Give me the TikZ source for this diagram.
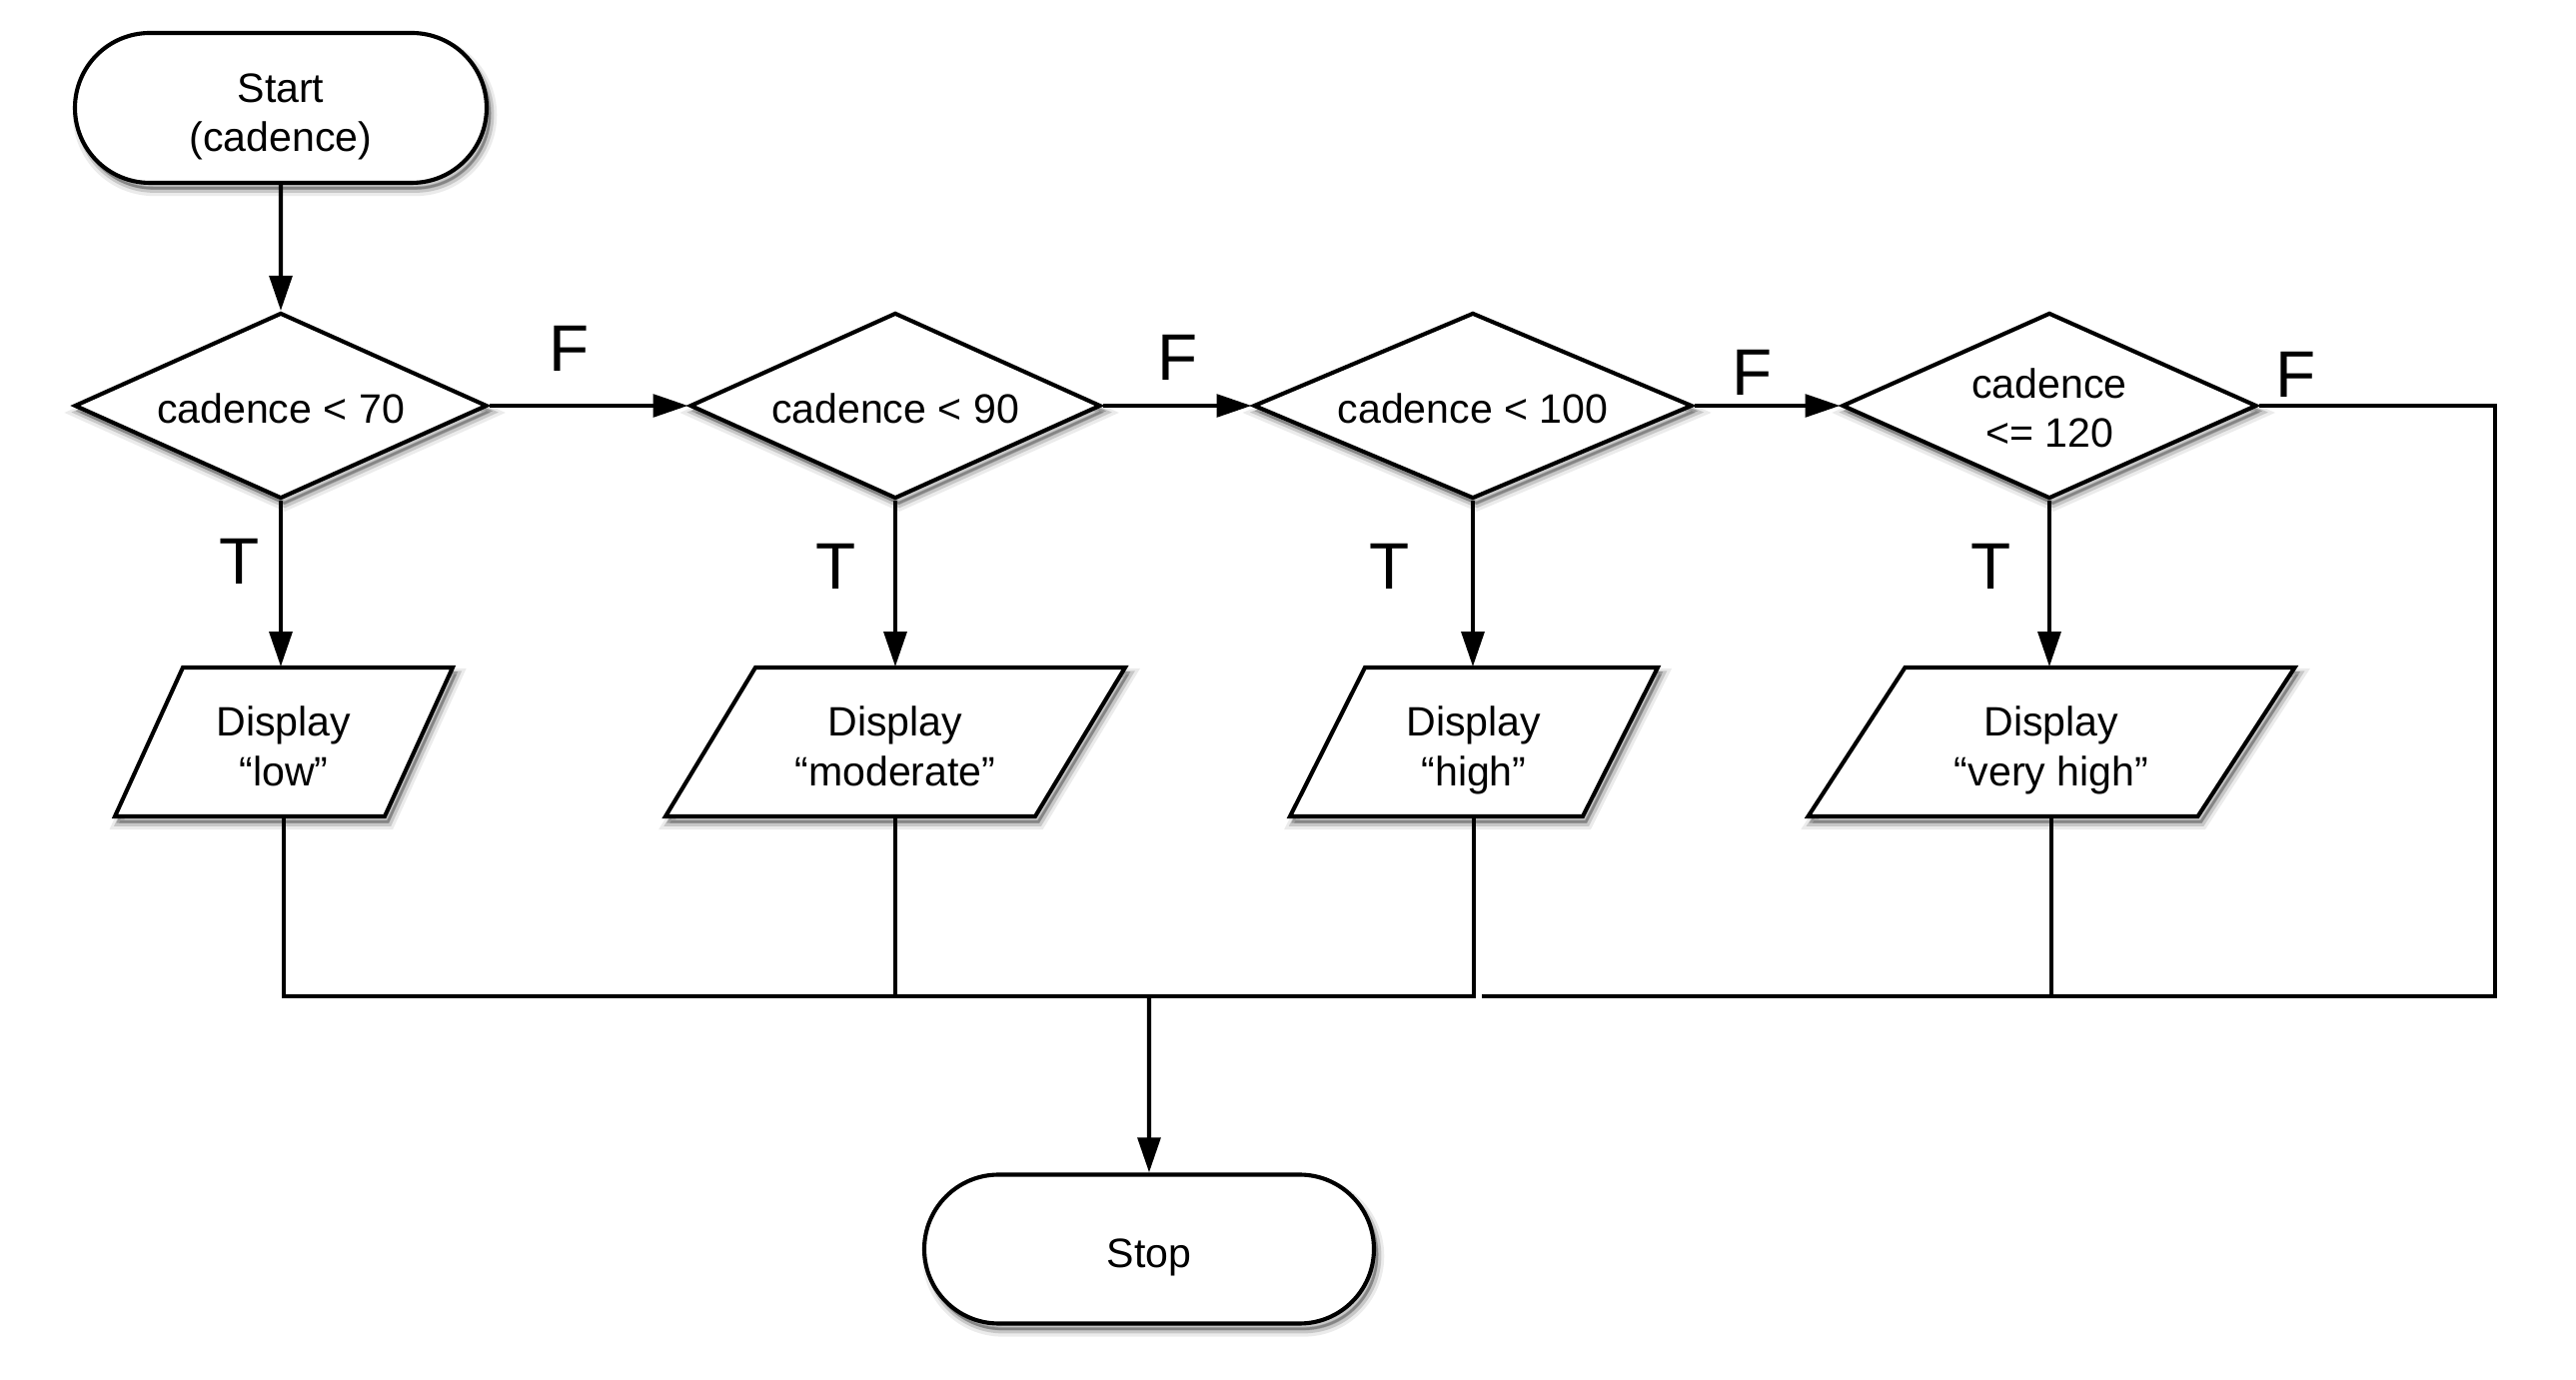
\documentclass[tikz,border=0pt]{standalone}
\usepackage{fontspec}
\setmainfont{Liberation Sans}
\usetikzlibrary{shapes.geometric,shapes.misc,arrows.meta,shadows}
\def\pxu{0.2433pt}
\newcommand\lowtxt[2]{\raisebox{-#1}[\height][\depth]{\begin{tabular}{@{}c@{}}#2\end{tabular}}}
\tikzset{
  softshadow/.style={
    general shadow={shadow xshift=1pt, shadow yshift=-1.7pt, fill=black, fill opacity=0.14, draw=black, draw opacity=0.08, line width=3pt},
    general shadow={shadow xshift=1pt, shadow yshift=-1.6pt, fill=none, draw=black, draw opacity=0.15, line width=1.6pt},
    general shadow={shadow xshift=0.8pt, shadow yshift=-1.3pt, fill=none, draw=black, draw opacity=0.22, line width=0.6pt}
  },
  shapeline/.style={draw=black, line width=1pt, fill=white},
  txt/.style={font=\fontsize{10}{12}\selectfont, align=center, inner sep=0pt},
  term/.style={shapeline, softshadow, txt, rounded rectangle, minimum height={150*\pxu}},
  decis/.style={shapeline, softshadow, txt, diamond, aspect=2.2, minimum height={186*\pxu}},
  paratext/.style={txt, rectangle, draw=none, minimum height={149*\pxu}},
  conn/.style={line width=1pt, draw=black, line join=miter},
  arr/.style={conn, -{Triangle[length=8.5pt, width=5.5pt]}},
  lbl/.style={font=\fontsize{16}{19}\selectfont, inner sep=0pt}
}
\newcommand\paranode[6]{%
  \draw[shapeline, softshadow] ({#2-#4/2+#5/2},{#3-74.5}) -- ({#2+#4/2+#5/2},{#3-74.5}) -- ({#2+#4/2-#5/2},{#3+74.5}) -- ({#2-#4/2-#5/2},{#3+74.5}) -- cycle;
  \node[paratext, minimum width={#4*\pxu}] (#1) at (#2,#3) {\lowtxt{2.2pt}{#6}};
}
\begin{document}
\begin{tikzpicture}[x=0.2433pt, y=-0.2433pt]
\useasboundingbox[fill=white] (0,0) rectangle (2578,1381);

\node[term, minimum width={412*\pxu}] (start) at (281,108) {\lowtxt{2.3pt}{Start\\(cadence)}};

\node[decis, minimum width={413*\pxu}] (d1) at (281,406) {\lowtxt{1.8pt}{cadence < 70}};
\node[decis, minimum width={411*\pxu}] (d2) at (896,406) {\lowtxt{1.8pt}{cadence < 90}};
\node[decis, minimum width={439*\pxu}] (d3) at (1474,406) {\lowtxt{1.8pt}{cadence < 100}};
\node[decis, minimum width={415*\pxu}] (d4) at (2051,406) {\lowtxt{1.8pt}{cadence\\<= 120}};

\paranode{p1}{284}{742.5}{270}{68}{Display\\“low”}
\paranode{p2}{896}{742.5}{370}{90}{Display\\“moderate”}
\paranode{p3}{1475}{742.5}{293}{75}{Display\\“high”}
\paranode{p4}{2053}{742.5}{390}{97}{Display\\“very high”}

\node[term, minimum width={450*\pxu}, minimum height={149*\pxu}] (stop) at (1150,1250) {\lowtxt{2.2pt}{Stop}};

\coordinate (jc) at (1150,997);
\coordinate (fr) at (2497,406);
\coordinate (ge) at (1483,997);

\draw[arr] (start) -- (d1);
\draw[arr] (d1.east) -- (d2.west);
\draw[arr] (d2.east) -- (d3.west);
\draw[arr] (d3.east) -- (d4.west);

\draw[arr] (d1.south) -- (d1.south |- p1.north);
\draw[arr] (d2.south) -- (d2.south |- p2.north);
\draw[arr] (d3.south) -- (d3.south |- p3.north);
\draw[arr] (d4.south) -- (d4.south |- p4.north);

\draw[conn] (p1.south) |- (p3.south |- jc) -- (p3.south);
\draw[conn] (p2.south) -- (p2.south |- jc);
\draw[conn] (d4.east) -- (d4.east -| fr) -- (fr |- jc) -- (ge);
\draw[conn] (p4.south) -- (p4.south |- jc);
\draw[arr] (jc) -- (stop);

\node[lbl] (f1) at (570,349) {F};
\node[lbl] (f2) at (1179,358) {F};
\node[lbl] (f3) at (1754,373) {F};
\node[lbl] (f4) at (2298,375) {F};
\node[lbl] (t1) at (240,562) {T};
\node[lbl] (t2) at (837,567) {T};
\node[lbl] (t3) at (1391,567) {T};
\node[lbl] (t4) at (1993,567) {T};
\end{tikzpicture}
\end{document}
